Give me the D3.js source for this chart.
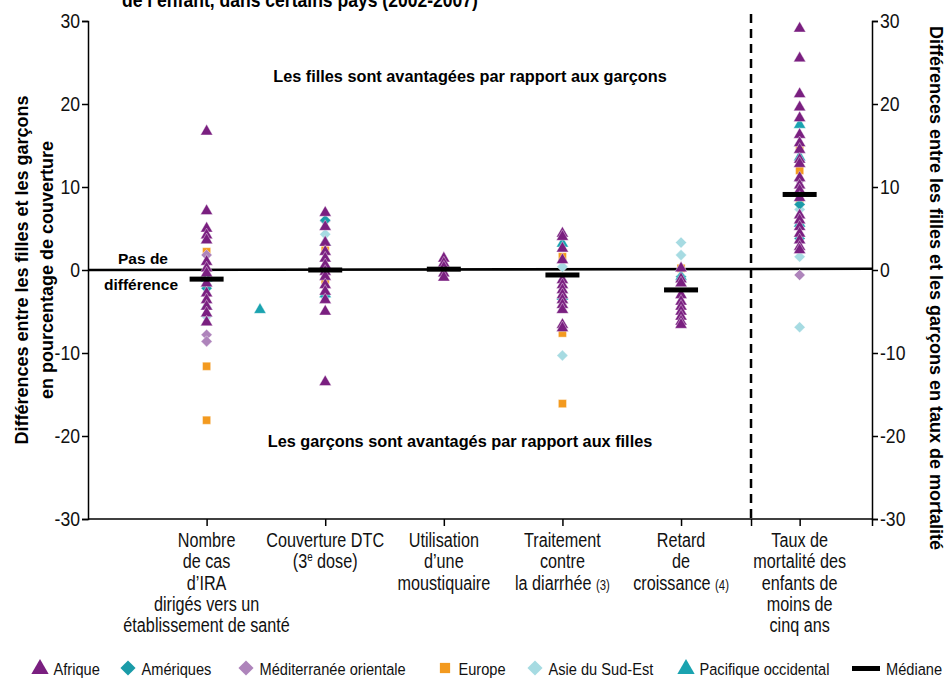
<!DOCTYPE html>
<html>
<head>
<meta charset="utf-8">
<script src="https://cdn.jsdelivr.net/npm/d3@7"></script>
<style>
  body { margin: 0; background: #fff; }
  svg { font-family: "Liberation Sans", Arial, sans-serif; }
</style>
</head>
<body>
<script>
// categories along the bottom (index 0..5); "|" splits superscript / small parts
const categories = [
  ["Nombre", "de cas", "d\u2019IRA", "dirigés vers un", "établissement de santé"],
  ["Couverture DTC", "(3|e| dose)"],
  ["Utilisation", "d\u2019une", "moustiquaire"],
  ["Traitement", "contre", "la diarrhée |(3)"],
  ["Retard", "de", "croissance |(4)"],
  ["Taux de", "mortalité des", "enfants de", "moins de", "cinq ans"]
]

const yTicks = [-30, -20, -10, 0, 10, 20, 30]

// [category index, value]
const afrique = [
  [0, 16.7], [0, 7.1], [0, 5.0], [0, 4.2], [0, 3.6], [0, 1.0], [0, 0.2], [0, -0.4], [0, -1.6],
  [0, -2.8], [0, -3.6], [0, -4.4], [0, -5.2], [0, -6.3],
  [1, 6.9], [1, 5.2], [1, 3.3], [1, 2.2], [1, 1.4], [1, 0.6], [1, -0.2], [1, -0.8], [1, -1.8],
  [1, -2.6], [1, -3.6], [1, -5.0], [1, -13.5],
  [2, 1.4], [2, 0.8], [2, 0.3], [2, -0.4], [2, -0.9],
  [3, 4.4], [3, 4.0], [3, 2.6], [3, 1.2], [3, -1.2], [3, -1.8], [3, -2.4], [3, -3.0], [3, -3.6],
  [3, -4.2], [3, -4.8], [3, -6.6], [3, -7.0],
  [4, 0.2], [4, -1.1], [4, -1.6], [4, -3.0], [4, -3.8], [4, -4.4], [4, -5.0], [4, -5.6], [4, -6.2], [4, -6.6],
  [5, 29.1], [5, 25.5], [5, 21.2], [5, 19.6], [5, 18.3], [5, 16.3], [5, 15.3], [5, 14.5], [5, 13.3],
  [5, 12.8], [5, 11.1], [5, 10.2], [5, 9.6], [5, 8.7], [5, 6.6], [5, 6.0], [5, 5.2], [5, 4.4],
  [5, 3.6], [5, 2.8], [5, 2.4]
]
const ameriques = [[0, -2.2], [1, 6.0], [1, -3.2], [4, -0.8], [5, 7.9], [5, 3.8]]
const mediterranee = [[0, 1.8], [0, -7.8], [0, -8.6], [1, 5.9], [5, 10.8], [5, -0.6]]
const europe = [[0, 2.2], [0, -11.6], [0, -18.1], [1, 2.4], [1, -1.2], [3, 1.6], [3, -7.6], [3, -16.1],
  [4, 0.2], [5, 14.6], [5, 12.0], [5, 8.2]]
const asie = [[0, -1.8], [0, -5.6], [1, 4.3], [3, 0.4], [3, -10.3], [4, 3.3], [4, 1.8], [5, 7.3], [5, 1.6], [5, -6.9]]
const pacifique = [[0, -1.0], [0, -4.4], [0.45, -4.8], [1, 3.3], [1, -2.9], [3, 3.2], [3, -3.2], [4, -0.8],
  [5, 17.5], [5, 13.6], [5, 5.6]]

const medians = [-1.1, 0.0, 0.1, -0.6, -2.4, 9.1]

const series = [
  {name: "Europe", data: europe, shape: "square", color: "#f39a1f"},
  {name: "Méditerranée orientale", data: mediterranee, shape: "diamond", color: "#ae84bb"},
  {name: "Asie du Sud-Est", data: asie, shape: "diamond", color: "#a6dbe2"},
  {name: "Amériques", data: ameriques, shape: "diamond", color: "#1a9ba8"},
  {name: "Pacifique occidental", data: pacifique, shape: "triangle", color: "#1aa3b0"},
  {name: "Afrique", data: afrique, shape: "triangle", color: "#7a1f80"}
]
const legendOrder = ["Afrique", "Amériques", "Méditerranée orientale", "Europe", "Asie du Sud-Est", "Pacifique occidental"]

const width = 950, height = 683
const narrow = 0.81   // squeeze to mimic the condensed face

const svg = d3.select("body").append("svg")
  .attr("width", width).attr("height", height)

const x = d3.scaleLinear().domain([-1, 5.61]).range([88, 872])
const y = d3.scaleLinear().domain([-30, 30]).range([519, 21])

// text placed through a transform so it can be squeezed / rotated
function label(X, Y, str, o) {
  const g = svg.append("g")
    .attr("transform", `translate(${X},${Y})${o.rotate ? ` rotate(${o.rotate})` : ""} scale(${o.sx || 1},1)`)
  return g.append("text")
    .attr("text-anchor", o.anchor || "middle")
    .attr("font-size", o.size)
    .attr("font-weight", o.bold ? "bold" : null)
    .attr("fill", o.fill || "#000")
    .text(str)
}

function symbolPath(shape, size) {
  return d3.symbol(shape === "triangle" ? d3.symbolTriangle : d3.symbolSquare, size)()
}
function symbolRotate(shape) {
  return shape === "diamond" ? " rotate(45)" : ""
}
const markSize = {triangle: 64, square: 66, diamond: 62}

// title (cut off at the top)
label(122, 7, "de l\u2019enfant, dans certains pays (2002-2007)", {size: 19.5, sx: 0.9, bold: true, anchor: "start"})

// axes
const tickSx = 0.88
const leftAxis = svg.append("g").attr("transform", "translate(88,0)")
  .call(d3.axisLeft(y).tickValues(yTicks).tickSize(6).tickPadding(2))
const rightAxis = svg.append("g").attr("transform", "translate(872,0)")
  .call(d3.axisRight(y).tickValues(yTicks).tickSize(6).tickPadding(2))
const bottomAxis = svg.append("g").attr("transform", "translate(0,519)")
  .call(d3.axisBottom(x).tickValues([0, 1, 2, 3, 4, 4.59, 5, 5.61]).tickSize(7).tickFormat(""))

for (const g of [leftAxis, rightAxis, bottomAxis]) {
  g.attr("font-family", null)
  g.select(".domain").attr("stroke-width", 1.5)
  g.selectAll(".tick line").attr("stroke-width", 1.5)
}
for (const [g, side] of [[leftAxis, -1], [rightAxis, 1]]) {
  g.selectAll("text")
    .attr("font-size", 20).attr("fill", "#111")
    .attr("x", side * 8 / tickSx)
    .attr("transform", `scale(${tickSx},1)`)
    .text(d => String(d))
}
bottomAxis.selectAll("text").remove()
bottomAxis.select(".domain").attr("d", `M${x(-1)},0H${x(5.61)}`)

// axis titles
label(28, y(0), "Différences entre les filles et les garçons", {size: 18, bold: true, rotate: -90})
label(53, y(0), "en pourcentage de couverture", {size: 18, bold: true, rotate: -90})
label(930, y(0) + 18, "Différences entre les filles et les garçons en taux de mortalité",
  {size: 18, bold: true, rotate: 90})

// category labels
categories.forEach((lines, i) => {
  const t = svg.append("g")
    .attr("transform", `translate(${x(i)},547) scale(${narrow},1)`)
    .append("text")
    .attr("text-anchor", "middle").attr("font-size", 20).attr("fill", "#111")
  lines.forEach((line, j) => {
    const tl = t.append("tspan").attr("x", 0).attr("y", j * 21.3)
    const parts = line.split("|")
    parts.forEach((p, k) => {
      if (!p) return
      const s = tl.append("tspan").text(p)
      if (p === "e") s.attr("font-size", 12).attr("dy", -7)
      else if (k > 0 && parts[k - 1] === "e") s.attr("dy", 7)
      else if (p.startsWith("(") && p.length === 3) s.attr("font-size", 14)
    })
  })
})

// annotations
label(470, 82, "Les filles sont avantagées par rapport aux garçons", {size: 16.3, bold: true})
label(460, 447, "Les garçons sont avantagés par rapport aux filles", {size: 16.3, bold: true})

// dashed separator
svg.append("line")
  .attr("x1", x(4.59)).attr("x2", x(4.59))
  .attr("y1", 14).attr("y2", y(-30))
  .attr("stroke", "#000").attr("stroke-width", 2.5).attr("stroke-dasharray", "9,6")

// zero line
svg.append("line")
  .attr("x1", x(-1)).attr("x2", x(5.61))
  .attr("y1", y(0)).attr("y2", y(0.15))
  .attr("stroke", "#000").attr("stroke-width", 2.6)

label(143, 264, "Pas de", {size: 15.5, bold: true})
label(141, 290, "différence", {size: 15.5, bold: true})

// points
series.forEach(s => {
  svg.append("g").selectAll("path")
    .data(s.data)
    .join("path")
    .attr("d", symbolPath(s.shape, markSize[s.shape]))
    .attr("transform", d => `translate(${x(d[0])},${y(d[1])})${symbolRotate(s.shape)}`)
    .attr("fill", s.color)
    .attr("stroke", "#fff").attr("stroke-width", 0.4)
})

// medians
svg.append("g").selectAll("rect")
  .data(medians)
  .join("rect")
  .attr("x", (d, i) => x(i) - 17)
  .attr("y", d => y(d) - 2.5)
  .attr("width", 34).attr("height", 5)
  .attr("fill", "#000")

// legend
const legendX = [40, 128, 246, 445, 535, 686]
const legendSize = {triangle: 130, square: 105, diamond: 115}
legendOrder.forEach((name, i) => {
  const s = series.find(d => d.name === name)
  svg.append("path")
    .attr("d", symbolPath(s.shape, legendSize[s.shape]))
    .attr("transform", `translate(${legendX[i]},${s.shape === "triangle" ? 669 : 668})${symbolRotate(s.shape)}`)
    .attr("fill", s.color)
  label(legendX[i] + 13.5, 675, name, {size: 17, sx: 0.86, anchor: "start", fill: "#111"})
})
svg.append("rect").attr("x", 852).attr("y", 666).attr("width", 28).attr("height", 5).attr("fill", "#000")
label(886, 675, "Médiane", {size: 17, sx: 0.86, anchor: "start", fill: "#111"})
</script>
</body>
</html>
